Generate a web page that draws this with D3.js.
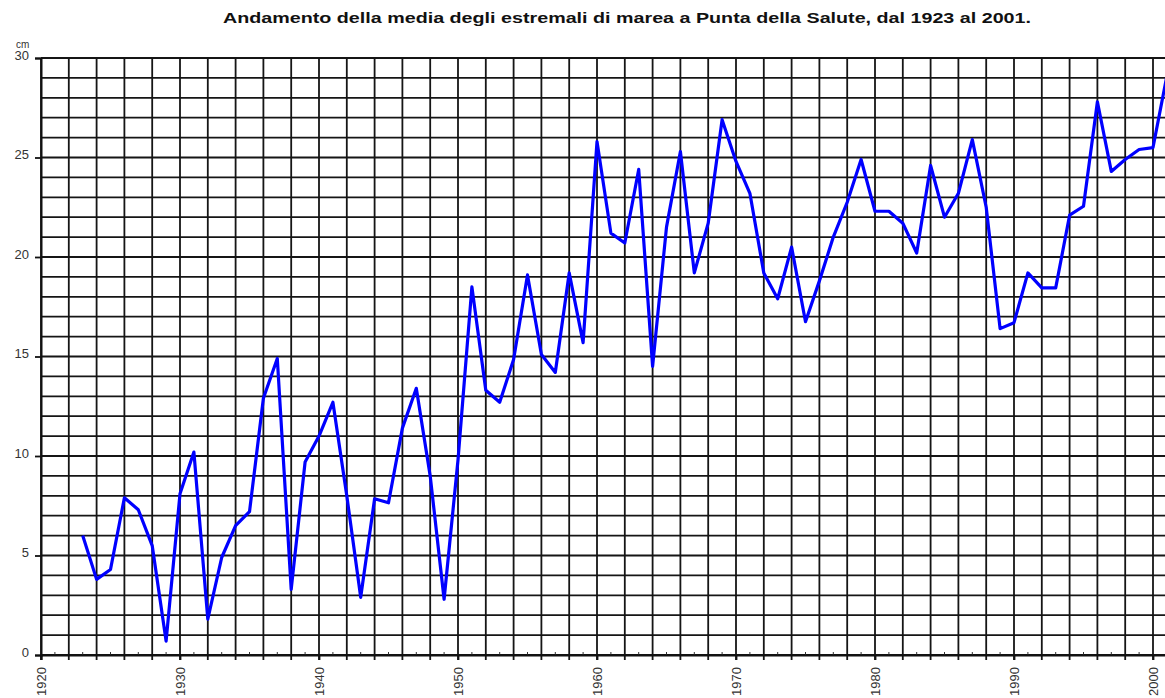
<!DOCTYPE html>
<html>
<head>
<meta charset="utf-8">
<script src="https://cdn.jsdelivr.net/npm/d3@7"></script>
<style>
  body { margin: 0; background: #fff; }
  svg { display: block; }
</style>
</head>
<body>
<div class="canvas"></div>
<script>
const titleText = "Andamento della media degli estremali di marea a Punta della Salute, dal 1923 al 2001."

// anni e valori (cm)
const years = d3.range(1923, 2002)
const values = [
    6.0, 3.8, 4.3, 7.9, 7.3, 5.5, 0.7,                 // 1923-1929
    8.1, 10.2, 1.8, 4.9, 6.5, 7.2, 12.9, 14.9, 3.3, 9.7, // 1930-1939
    11.0, 12.7, 8.0, 2.9, 7.85, 7.65, 11.4, 13.4, 9.0, 2.8, // 1940-1949
    9.8, 18.5, 13.3, 12.7, 14.85, 19.1, 15.1, 14.2, 19.2, 15.7, // 1950-1959
    25.8, 21.2, 20.7, 24.4, 14.5, 21.5, 25.3, 19.2, 21.7, 26.9, // 1960-1969
    24.8, 23.2, 19.2, 17.9, 20.5, 16.75, 18.8, 21.0, 22.75, 24.9, // 1970-1979
    22.3, 22.3, 21.7, 20.2, 24.6, 22.0, 23.2, 25.9, 22.5, 16.4, // 1980-1989
    16.7, 19.2, 18.45, 18.45, 22.1, 22.55, 27.8, 24.3, 24.9, 25.4, // 1990-1999
    25.5, 29.1                                          // 2000-2001
]

const yTickLabels = [0, 5, 10, 15, 20, 25, 30]
const xTickLabels = [1920, 1930, 1940, 1950, 1960, 1970, 1980, 1990, 2000]

const data = years.map((y, i) => ({ year: y, value: values[i] }))

const width = 1165
const height = 698

const svg = d3.select(".canvas").append("svg")
    .attr("width", width)
    .attr("height", height)

const x = d3.scaleLinear().domain([1920, 2001]).range([41, 1166.9])
const y = d3.scaleLinear().domain([0, 30]).range([655, 58])

// titolo
svg.append("text")
    .attr("x", 627)
    .attr("y", 23)
    .attr("text-anchor", "middle")
    .attr("font-family", "Arial, 'Liberation Sans', sans-serif")
    .attr("font-weight", "bold")
    .attr("font-size", 15)
    .attr("textLength", 808)
    .attr("lengthAdjust", "spacingAndGlyphs")
    .attr("fill", "#111")
    .text(titleText)

const grid = svg.append("g")

// griglia orizzontale, ogni cm
grid.selectAll("line.h")
    .data(d3.range(0, 31))
    .enter().append("line")
    .attr("class", "h")
    .attr("x1", x(1920))
    .attr("x2", width)
    .attr("y1", d => y(d))
    .attr("y2", d => y(d))
    .attr("stroke", "#151515")
    .attr("stroke-width", 1.8)

// griglia verticale, ogni 2 anni
grid.selectAll("line.v")
    .data(d3.range(1920, 2001, 2))
    .enter().append("line")
    .attr("class", "v")
    .attr("x1", d => x(d))
    .attr("x2", d => x(d))
    .attr("y1", y(30))
    .attr("y2", y(0) + 5)
    .attr("stroke", "#151515")
    .attr("stroke-width", 1.8)

// tacche minori sugli anni dispari
grid.selectAll("line.m")
    .data(d3.range(1921, 2001, 2))
    .enter().append("line")
    .attr("class", "m")
    .attr("x1", d => x(d))
    .attr("x2", d => x(d))
    .attr("y1", y(0) - 3)
    .attr("y2", y(0))
    .attr("stroke", "#333")
    .attr("stroke-width", 1)

// asse y
const yAxis = d3.axisLeft(y)
    .tickValues(yTickLabels)
    .tickSize(6)
    .tickPadding(6)

const gy = svg.append("g")
    .attr("transform", `translate(${x(1920)},0)`)
    .call(yAxis)

gy.select(".domain").attr("stroke", "#111").attr("stroke-width", 2)
gy.selectAll(".tick line").attr("stroke", "#111").attr("stroke-width", 1.8)
gy.selectAll(".tick text")
    .attr("font-family", "Arial, 'Liberation Sans', sans-serif")
    .attr("font-size", 13)
    .attr("fill", "#333")
    .attr("dy", "0.1em")

svg.append("text")
    .attr("x", 16)
    .attr("y", 48)
    .attr("font-family", "Arial, 'Liberation Sans', sans-serif")
    .attr("font-size", 10)
    .attr("fill", "#333")
    .text("cm")

// asse x
const xAxis = d3.axisBottom(x)
    .tickValues(xTickLabels)
    .tickSize(5)
    .tickFormat(d3.format("d"))

const gx = svg.append("g")
    .attr("transform", `translate(0,${y(0)})`)
    .call(xAxis)

gx.select(".domain").attr("stroke", "#111").attr("stroke-width", 2)
gx.selectAll(".tick line").attr("stroke", "#111").attr("stroke-width", 1.8)
gx.selectAll(".tick text")
    .attr("font-family", "Arial, 'Liberation Sans', sans-serif")
    .attr("font-size", 13)
    .attr("fill", "#333")
    .attr("text-anchor", "end")
    .attr("transform", "rotate(-90)")
    .attr("x", -12)
    .attr("y", 0)
    .attr("dy", "0.35em")

// linea dei dati
const line = d3.line()
    .x(d => x(d.year))
    .y(d => y(d.value))

svg.append("path")
    .datum(data)
    .attr("fill", "none")
    .attr("stroke", "#0000ff")
    .attr("stroke-width", 3.2)
    .attr("stroke-linejoin", "round")
    .attr("d", line)
</script>
</body>
</html>
